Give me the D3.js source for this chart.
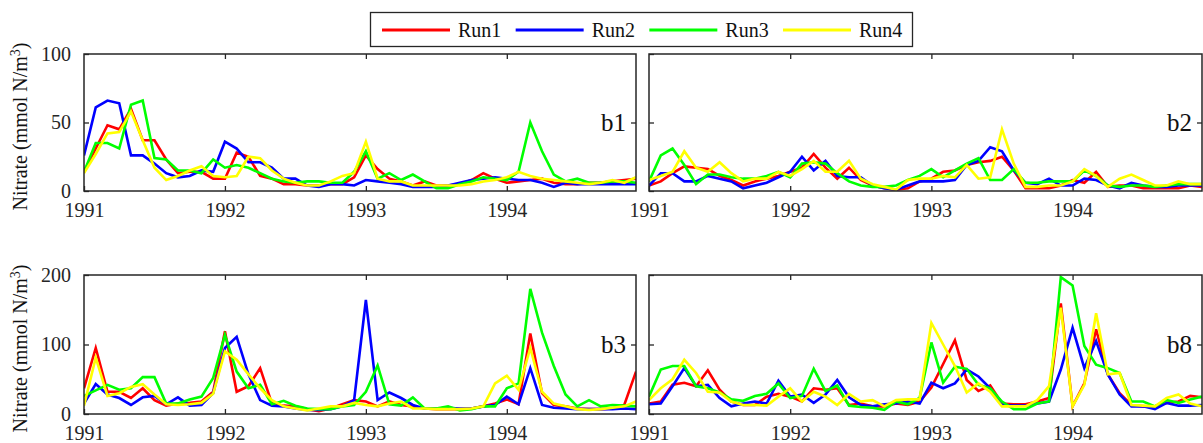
<!DOCTYPE html>
<html>
<head>
<meta charset="utf-8">
<script src="https://cdn.jsdelivr.net/npm/d3@7"></script>
<style>
  html, body { margin: 0; padding: 0; background: #fff; }
  svg { display: block; font-family: "Liberation Serif", "Times New Roman", serif; }
</style>
</head>
<body>
<svg id="chart" width="1203" height="443"></svg>
<script>
// Monthly nitrate, Jan 1991 .. Dec 1994 (48 months), four model runs per box
const runs = ["Run1", "Run2", "Run3", "Run4"];
const runColors = ["#ff0000", "#0000ff", "#00ff00", "#ffff00"];
const yearTicks = [1991, 1992, 1993, 1994];
const startYear = 1991;

// Box b1
const b1Run1 = [14,31,48,45,60,37,37,23,13,14,14,9, 9,28,25,11,9,5,5,4,4,5,5,10, 26,16,9,7,4,7,4,4,5,8,13,9, 6,7,8,9,6,5,5,6,6,7,8,9];
const b1Run2 = [26,61,66,64,26,26,20,13,10,11,15,14, 36,31,21,21,17,9,9,4,3,5,5,4, 8,7,6,5,3,3,3,4,6,8,9,10, 9,8,8,6,3,6,5,5,5,5,5,5];
const b1Run3 = [14,35,35,31,63,66,24,23,15,15,13,23, 17,19,17,13,9,7,6,7,7,6,6,14, 29,9,13,8,12,7,2,2,5,7,10,9, 8,14,50,29,12,7,9,6,6,7,7,6];
const b1Run4 = [13,27,42,43,58,37,17,8,11,15,18,11, 10,11,25,24,15,9,6,4,4,7,11,13, 36,9,7,7,4,4,4,4,4,5,7,8, 10,14,11,9,8,7,6,5,6,8,6,10];

// Box b2
const b2Run1 = [4,7,13,18,17,16,11,8,4,7,9,11, 14,17,27,17,9,17,8,4,2,1,2,7, 9,14,15,19,21,22,25,15,2,2,2,4, 8,6,14,3,4,4,2,2,2,2,4,3];
const b2Run2 = [4,13,13,7,7,11,9,7,2,4,6,10, 14,25,15,22,11,10,10,4,2,1,4,7, 7,7,8,19,22,32,29,15,6,5,9,4, 4,9,8,4,2,6,4,3,3,4,4,4];
const b2Run3 = [7,26,31,19,5,12,12,10,9,9,11,14, 10,20,21,20,13,7,4,3,3,4,8,11, 16,10,15,20,24,8,8,16,6,6,7,7, 7,15,11,4,3,4,4,3,4,5,5,5];
const b2Run4 = [8,11,14,29,17,14,21,13,7,9,9,14, 11,16,22,14,14,22,9,5,3,1,8,9, 9,11,10,19,9,10,45,20,3,3,4,4, 7,16,11,3,9,12,8,4,4,7,5,5];

// Box b3
const b3Run1 = [37,95,32,32,23,37,20,12,15,16,18,32, 119,32,40,66,15,12,11,7,4,8,14,20, 18,11,18,13,11,8,7,7,7,8,11,15, 21,14,116,30,13,11,8,7,7,8,13,61];
const b3Run2 = [15,43,28,23,13,24,26,14,24,12,13,30, 95,111,57,20,12,11,8,6,6,7,11,20, 164,20,31,23,13,8,8,9,8,8,11,13, 25,14,66,13,9,8,7,7,7,7,8,7];
const b3Run3 = [26,34,42,35,37,53,53,15,15,21,25,52, 114,61,37,42,14,19,12,8,7,7,11,13, 32,70,14,12,24,8,8,11,5,7,11,11, 37,44,180,117,69,28,11,20,11,13,12,11];
const b3Run4 = [12,81,26,30,39,43,28,14,13,14,16,29, 90,78,57,37,20,11,8,5,8,11,11,16, 13,11,15,18,8,8,7,7,7,8,11,44, 55,35,95,32,15,11,7,6,7,9,11,18];

// Box b8
const b8Run1 = [15,18,42,45,40,63,35,18,13,13,25,29, 25,18,37,35,37,13,15,11,11,15,13,18, 38,72,106,49,33,41,15,14,14,18,23,159, 11,44,122,57,30,13,11,11,16,18,26,24];
const b8Run2 = [14,15,40,66,40,42,23,11,15,18,15,48, 25,28,16,28,49,24,13,11,14,15,18,15, 45,37,44,64,54,37,13,12,12,15,18,64, 124,66,105,57,28,11,11,7,16,12,12,13];
const b8Run3 = [25,64,69,69,40,37,31,21,19,26,29,44, 23,26,65,33,41,12,10,9,6,18,14,23, 103,45,68,65,42,37,18,7,7,15,18,197, 185,98,71,66,59,18,18,11,20,16,21,25];
const b8Run4 = [20,37,50,78,59,32,31,18,13,13,12,25, 37,18,32,25,13,29,18,20,11,20,21,21, 131,100,69,31,44,32,11,11,11,20,40,153, 11,42,145,57,59,13,12,11,23,28,15,11];

// Panel layout: box name, series, y range, tick values, y tick labels shown
const panels = [
  { name: "b1", series: [b1Run1, b1Run2, b1Run3, b1Run4], yMax: 100, yTicks: [0, 50, 100], yLabels: true,
    left: 84, right: 636, top: 54, bottom: 191 },
  { name: "b2", series: [b2Run1, b2Run2, b2Run3, b2Run4], yMax: 100, yTicks: [0, 50, 100], yLabels: false,
    left: 649, right: 1202, top: 54, bottom: 191 },
  { name: "b3", series: [b3Run1, b3Run2, b3Run3, b3Run4], yMax: 200, yTicks: [0, 100, 200], yLabels: true,
    left: 84, right: 636, top: 275, bottom: 414 },
  { name: "b8", series: [b8Run1, b8Run2, b8Run3, b8Run4], yMax: 200, yTicks: [0, 100, 200], yLabels: false,
    left: 649, right: 1202, top: 275, bottom: 414 }
];

const svg = d3.select("#chart");
const axisColor = "#262626";
const tickLen = 5;
const fontSize = 20;

panels.forEach((p, pi) => {
  const x = d3.scaleLinear().domain([startYear, startYear + 47 / 12]).range([p.left, p.right]);
  const y = d3.scaleLinear().domain([0, p.yMax]).range([p.bottom, p.top]);
  const g = svg.append("g");

  const clipId = "clip-" + p.name;
  svg.append("clipPath").attr("id", clipId)
    .append("rect").attr("x", p.left).attr("y", p.top)
    .attr("width", p.right - p.left).attr("height", p.bottom - p.top);

  const line = d3.line()
    .x((d, i) => x(startYear + i / 12))
    .y(d => y(d));

  const lines = g.append("g").attr("clip-path", `url(#${clipId})`);
  p.series.forEach((s, si) => {
    lines.append("path").datum(s)
      .attr("d", line)
      .attr("fill", "none")
      .attr("stroke", runColors[si])
      .attr("stroke-width", 2.6)
      .attr("stroke-linejoin", "miter");
  });

  // Bottom axis with inward ticks and year labels
  const xb = d3.axisBottom(x).tickValues(yearTicks).tickFormat(d3.format("d"))
    .tickSizeInner(-tickLen).tickSizeOuter(0).tickPadding(12);
  const gxb = g.append("g").attr("transform", `translate(0,${p.bottom})`).call(xb);
  // Top axis mirrors ticks only
  const xt = d3.axisTop(x).tickValues(yearTicks.slice(1)).tickFormat("")
    .tickSizeInner(-tickLen).tickSizeOuter(0);
  const gxt = g.append("g").attr("transform", `translate(0,${p.top})`).call(xt);

  // Left axis
  const yl = d3.axisLeft(y).tickValues(p.yTicks).tickFormat(p.yLabels ? d3.format("d") : "")
    .tickSizeInner(-tickLen).tickSizeOuter(0).tickPadding(13);
  const gyl = g.append("g").attr("transform", `translate(${p.left},0)`).call(yl);
  // Right axis mirrors the middle tick
  const yr = d3.axisRight(y).tickValues([p.yTicks[1]]).tickFormat("")
    .tickSizeInner(-tickLen).tickSizeOuter(0);
  const gyr = g.append("g").attr("transform", `translate(${p.right},0)`).call(yr);

  [gxb, gxt, gyl, gyr].forEach(a => {
    a.select(".domain").remove();
    a.selectAll("line").attr("stroke", axisColor).attr("stroke-width", 1.3);
    a.selectAll("text").attr("fill", "#262626")
      .style("font-family", "Liberation Serif, serif").style("font-size", fontSize + "px");
  });

  // Box frame
  g.append("rect")
    .attr("x", p.left).attr("y", p.top)
    .attr("width", p.right - p.left).attr("height", p.bottom - p.top)
    .attr("fill", "none").attr("stroke", axisColor).attr("stroke-width", 1.5);

  // Box name at the right, beside the middle tick
  g.append("text")
    .attr("x", p.right - 10).attr("y", y(p.yTicks[1]))
    .attr("dy", "0.35em")
    .attr("text-anchor", "end")
    .attr("fill", "#111")
    .style("font-size", "25px")
    .text(p.name);

  // Y axis title for the left column
  if (p.yLabels) {
    const cy = (p.top + p.bottom) / 2 + 4;
    const t = g.append("text")
      .attr("transform", `translate(27,${cy}) rotate(-90)`)
      .attr("text-anchor", "middle")
      .attr("fill", "#111")
      .style("font-size", fontSize + "px");
    t.append("tspan").text("Nitrate (mmol N/m");
    t.append("tspan").attr("baseline-shift", "super").style("font-size", "14px").text("3");
    t.append("tspan").text(")");
  }
});

// Legend
const legend = svg.append("g");
legend.append("rect")
  .attr("x", 370.5).attr("y", 12.5).attr("width", 542).attr("height", 34)
  .attr("fill", "#fff").attr("stroke", axisColor).attr("stroke-width", 1.3);
const legendX = d3.scalePoint().domain(runs).range([382, 783]);
runs.forEach((r, i) => {
  const lx = legendX(r);
  legend.append("line")
    .attr("x1", lx).attr("x2", lx + 68).attr("y1", 30).attr("y2", 30)
    .attr("stroke", runColors[i]).attr("stroke-width", 3);
  legend.append("text")
    .attr("x", lx + 76).attr("y", 30).attr("dy", "0.35em")
    .attr("fill", "#111")
    .style("font-size", fontSize + "px")
    .text(r);
});
</script>
</body>
</html>
